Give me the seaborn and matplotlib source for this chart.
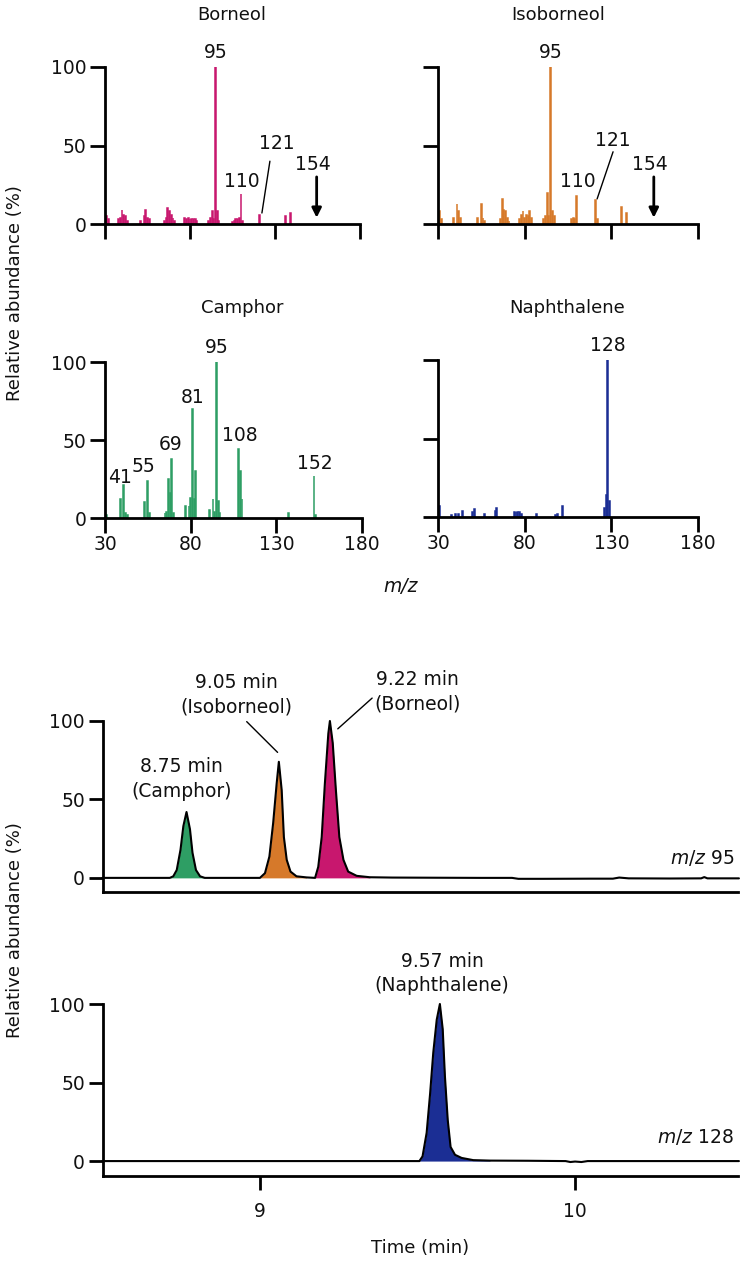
import numpy as np
import pandas as pd
import matplotlib
matplotlib.use("Agg")
import matplotlib.pyplot as plt
import seaborn as sns

# ---------------- data ----------------
borneol_mz = [31, 32, 38, 39, 40, 41, 42, 43, 51, 53, 54, 55, 56, 65, 66, 67, 68, 69, 70, 71,
              77, 78, 79, 80, 81, 82, 83, 84, 91, 92, 93, 94, 95, 96, 97,
              105, 106, 107, 108, 109, 110, 111, 121, 136, 139]
borneol_ab = [5, 3, 3, 4, 9, 6, 5, 2, 2, 5, 9, 4, 3, 2, 4, 10, 8, 6, 4, 2,
              4, 3, 4, 3, 3, 3, 3, 2, 2, 4, 8, 3, 100, 8, 2,
              1, 2, 3, 3, 4, 19, 2, 6, 5, 7]

isoborneol_mz = [31, 32, 39, 41, 42, 43, 53, 55, 56, 57, 66, 67, 68, 69, 70, 71,
                 77, 78, 79, 80, 81, 82, 83, 84, 91, 92, 93, 94, 95, 96, 97,
                 107, 108, 109, 110, 121, 122, 136, 139]
isoborneol_ab = [8, 3, 4, 13, 8, 4, 4, 13, 4, 2, 3, 16, 9, 8, 4, 2,
                 3, 6, 8, 4, 6, 5, 8, 4, 3, 5, 20, 5, 100, 8, 5,
                 3, 4, 3, 18, 15, 3, 11, 7]

camphor_mz = [31, 39, 41, 42, 43, 53, 55, 56, 65, 66, 67, 68, 69, 70,
              77, 79, 80, 81, 82, 83, 91, 93, 94, 95, 96, 97,
              108, 109, 110, 137, 152, 153]
camphor_ab = [2, 12, 21, 3, 2, 10, 24, 3, 3, 4, 25, 16, 38, 3,
              8, 8, 13, 70, 12, 30, 5, 12, 4, 100, 11, 3,
              44, 30, 12, 3, 27, 2]

naphthalene_mz = [31, 38, 40, 42, 44, 50, 51, 57, 63, 64, 74, 75, 76, 77, 78, 87,
                  98, 99, 102, 126, 127, 128, 129]
naphthalene_ab = [7, 1, 2, 2, 4, 3, 5, 2, 4, 6, 3, 3, 3, 3, 2, 2,
                  1, 2, 7, 6, 14, 100, 10]

# chromatogram m/z 95
tic95_time = [8.50, 8.60, 8.70, 8.714, 8.725, 8.736, 8.748, 8.757, 8.767, 8.778, 8.786, 8.797,
              8.810, 8.825, 8.88, 8.95, 9.000, 9.016, 9.030, 9.042, 9.053, 9.060, 9.069, 9.076,
              9.085, 9.097, 9.116, 9.148, 9.175, 9.185, 9.196, 9.206, 9.217, 9.222, 9.231, 9.241,
              9.252, 9.265, 9.280, 9.307, 9.349, 9.42, 9.55, 9.70, 9.80, 9.82, 9.90, 10.05, 10.12,
              10.14, 10.17, 10.30, 10.40, 10.41, 10.42, 10.52]
tic95_abund = [0, 0, 0, 0, 1, 5, 18, 33, 42, 31, 16, 5,
               1, 0, 0, 0, 0, 3, 13.6, 35, 60, 74, 56, 26,
               11.5, 4, 1, 0.3, 0, 7, 26, 60, 92, 100, 86, 56,
               26, 11.5, 4, 1.3, 0.4, 0.2, 0.1, 0, 0, -0.6, -0.6, -0.5, -0.5,
               0.2, -0.3, -0.4, -0.3, 0.5, -0.3, -0.3]
peaks95_names = ["Camphor", "Isoborneol", "Borneol"]
peaks95_rt = ["8.75", "9.05", "9.22"]
peaks95_start = [8.70, 8.99, 9.17]
peaks95_end = [8.83, 9.16, 9.36]

# chromatogram m/z 128
tic128_time = [8.50, 9.00, 9.40, 9.506, 9.516, 9.529, 9.540, 9.550, 9.561, 9.571, 9.580, 9.587,
               9.596, 9.605, 9.619, 9.640, 9.677, 9.730, 9.85, 9.97, 9.985, 10.0, 10.02, 10.04,
               10.2, 10.52]
tic128_abund = [0, 0, 0, 0, 3, 18, 43, 69, 90, 100, 84, 54,
                26, 9, 4, 2, 0.6, 0.3, 0.2, 0, -0.6, -0.3, -0.6, 0,
                0, 0]
peaks128_start = [9.50]
peaks128_end = [9.74]

# ---------------- style ----------------
sns.set_theme(style="ticks")
FONT = ["DejaVu Sans"]
plt.rcParams["font.family"] = FONT
plt.rcParams["mathtext.fontset"] = "dejavusans"

C_BOR = "#C8176E"
C_ISO = "#D6792A"
C_CAM = "#2E9E64"
C_NAP = "#1B2E94"
FS = 13.5
TXT = "#111111"

W, H = 740, 1264
fig = plt.figure(figsize=(W / 100, H / 100), dpi=100)


def add_ax(l, r, t, b):
    return fig.add_axes([l / W, 1 - b / H, (r - l) / W, (b - t) / H])


def style_spec(ax, ylab, xlab):
    ax.set_xlim(30, 180)
    ax.set_ylim(0, 100)
    ax.set_xticks([30, 80, 130, 180])
    ax.set_yticks([0, 50, 100])
    sns.despine(ax=ax)
    for s in ["left", "bottom"]:
        ax.spines[s].set_linewidth(2)
        ax.spines[s].set_color("black")
        ax.spines[s].set_zorder(5)
    ax.tick_params(axis="both", length=10.5, width=2, color="black",
                   labelsize=FS, labelcolor=TXT)
    ax.tick_params(axis="y", pad=3)
    ax.tick_params(axis="x", pad=2)
    if not ylab:
        ax.set_yticklabels([])
    else:
        ax.set_yticklabels(["0", "50", "100"])
    if not xlab:
        ax.set_xticklabels([])
    else:
        ax.set_xticklabels(["30", "80", "130", "180"])
    ax.set_xlabel("")
    ax.set_ylabel("")
    ax.set_facecolor("none")


def spectrum(ax, mz, ab, color):
    df = pd.DataFrame({"mz": mz, "ab": ab})
    sns.barplot(data=df, x="mz", y="ab", native_scale=True, color=color, saturation=1,
                width=0.5, errorbar=None, linewidth=1.1, edgecolor=color, ax=ax)


ax_b = add_ax(105, 360, 67, 224)
ax_i = add_ax(438, 698, 67, 224)
ax_c = add_ax(105, 362, 362, 518)
ax_n = add_ax(438, 698, 360, 517)

spectrum(ax_b, borneol_mz, borneol_ab, C_BOR)
spectrum(ax_i, isoborneol_mz, isoborneol_ab, C_ISO)
spectrum(ax_c, camphor_mz, camphor_ab, C_CAM)
spectrum(ax_n, naphthalene_mz, naphthalene_ab, C_NAP)

style_spec(ax_b, True, False)
style_spec(ax_i, False, False)
style_spec(ax_c, True, True)
style_spec(ax_n, False, True)

# titles
TFS = 13
fig.text(232 / W, 1 - 15 / H, "Borneol", ha="center", va="center", fontsize=TFS, color=TXT)
fig.text(558 / W, 1 - 15 / H, "Isoborneol", ha="center", va="center", fontsize=TFS, color=TXT)
fig.text(242 / W, 1 - 308 / H, "Camphor", ha="center", va="center", fontsize=TFS, color=TXT)
fig.text(567 / W, 1 - 308 / H, "Naphthalene", ha="center", va="center", fontsize=TFS, color=TXT)


def lab(ax, x, y, s):
    ax.text(x, y, s, ha="center", va="center", fontsize=FS, clip_on=False, color=TXT)


# Borneol & isoborneol annotations
for ax, h110, h121 in [(ax_b, 27, 51.5), (ax_i, 27, 53)]:
    lab(ax, 95, 109, "95")
    lab(ax, 110.5, h110, "110")
    lab(ax, 131, h121, "121")
    lab(ax, 152.5, 38, "154")
    ax.annotate("", xy=(154.5, 4), xytext=(154.5, 30),
                arrowprops=dict(arrowstyle="-|>", lw=2, color="black", mutation_scale=14,
                                shrinkA=0, shrinkB=0), annotation_clip=False)
ax_b.plot([127, 122.3], [40, 7], color="black", lw=1, clip_on=False)
ax_i.plot([131, 121.8], [46, 16], color="black", lw=1, clip_on=False)

# Camphor annotations
lab(ax_c, 95.5, 109, "95")
lab(ax_c, 81, 77, "81")
lab(ax_c, 108.5, 53, "108")
lab(ax_c, 68.5, 47, "69")
lab(ax_c, 52.5, 33, "55")
lab(ax_c, 38.5, 26, "41")
lab(ax_c, 152.5, 35, "152")

# Naphthalene annotation
lab(ax_n, 128, 109, "128")

fig.text(401 / W, 1 - 587 / H, "m/z", ha="center", va="center", fontsize=FS, style="italic",
         color=TXT)
fig.text(15 / W, 1 - 293 / H, "Relative abundance (%)", ha="center", va="center",
         rotation=90, fontsize=13, color=TXT)

# ---------------- chromatograms ----------------
ax_t = add_ax(103, 738, 721, 892)
ax_u = add_ax(103, 738, 1004, 1176)


def chrom(ax, t, y, starts, ends, colors):
    t = np.asarray(t)
    y = np.asarray(y)
    for s, e, c in zip(starts, ends, colors):
        m = (t >= s) & (t <= e)
        ax.fill_between(t[m], 0, y[m], color=c, lw=0, zorder=2)
    sns.lineplot(x=t, y=y, ax=ax, color="black", lw=1.5, sort=False, estimator=None,
                 zorder=3, clip_on=False)
    ax.set_xlim(8.502, 10.517)
    ax.set_yticks([0, 50, 100])
    ax.set_yticklabels(["0", "50", "100"])
    sns.despine(ax=ax)
    for s in ["left", "bottom"]:
        ax.spines[s].set_linewidth(2)
        ax.spines[s].set_color("black")
    ax.tick_params(axis="y", length=10, width=2, color="black", labelsize=FS, pad=3,
                   labelcolor=TXT)
    ax.set_xlabel("")
    ax.set_ylabel("")


chrom(ax_t, tic95_time, tic95_abund, peaks95_start, peaks95_end, [C_CAM, C_ISO, C_BOR])
ax_t.set_ylim(-9, 100)
ax_t.set_xticks([])

chrom(ax_u, tic128_time, tic128_abund, peaks128_start, peaks128_end, [C_NAP])
ax_u.set_ylim(-9.5, 100)
ax_u.set_xticks([9, 10])
ax_u.set_xticklabels(["9", "10"])
ax_u.tick_params(axis="x", length=10, width=2, color="black", labelsize=FS, pad=9,
                 labelcolor=TXT)


def clab(ax, x, y, s):
    ax.text(x, y, s, ha="center", va="center", fontsize=FS, linespacing=1.35,
            clip_on=False, color=TXT)


clab(ax_t, 8.751, 63, f"{peaks95_rt[0]} min\n({peaks95_names[0]})")
clab(ax_t, 8.926, 116.5, f"{peaks95_rt[1]} min\n({peaks95_names[1]})")
clab(ax_t, 9.50, 118.5, f"{peaks95_rt[2]} min\n({peaks95_names[2]})")
ax_t.plot([8.958, 9.056], [99.6, 80], color="black", lw=1, clip_on=False)
ax_t.plot([9.356, 9.247], [114.6, 95], color="black", lw=1, clip_on=False)
ax_t.text(10.505, 12.7, "$\\mathit{m/z}$ 95", ha="right", va="center", fontsize=FS,
          color=TXT)

clab(ax_u, 9.578, 119.4, "9.57 min\n(Naphthalene)")
ax_u.text(10.505, 15.3, "$\\mathit{m/z}$ 128", ha="right", va="center", fontsize=FS,
          color=TXT)

fig.text(420 / W, 1 - 1248 / H, "Time (min)", ha="center", va="center", fontsize=13,
         color=TXT)
fig.text(15 / W, 1 - 930 / H, "Relative abundance (%)", ha="center", va="center",
         rotation=90, fontsize=13, color=TXT)

fig.savefig("out.png", dpi=100)
